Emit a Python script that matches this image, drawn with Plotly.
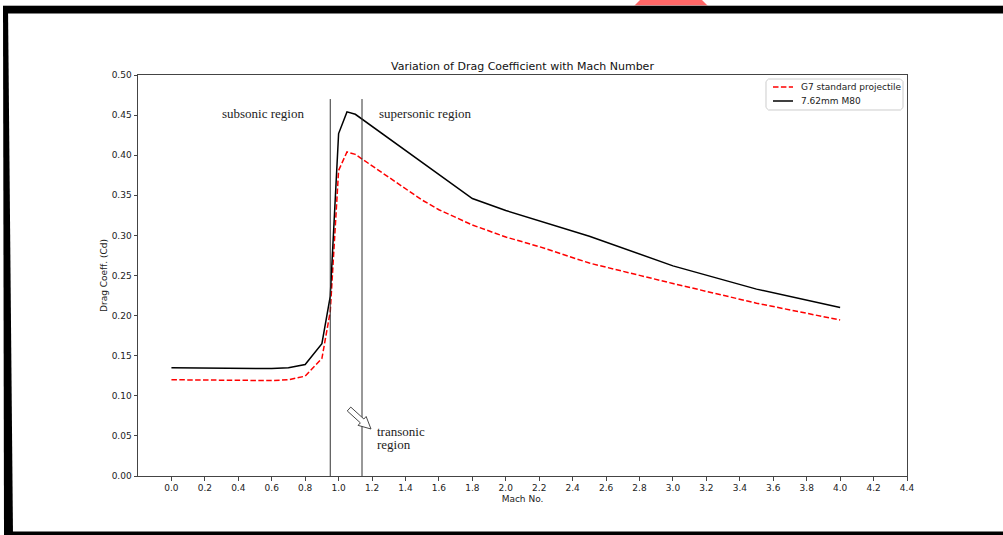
import plotly.graph_objects as go
import math

# ---------------- data ----------------
mach = [0.0, 0.6, 0.7, 0.8, 0.9, 0.95, 1.0, 1.05, 1.1, 1.2, 1.3, 1.4, 1.5, 1.6,
        1.7, 1.8, 2.0, 2.2, 2.5, 3.0, 3.5, 4.0]
cd_g7 = [0.120, 0.119, 0.120, 0.1245, 0.1465, 0.205, 0.381, 0.404, 0.401, 0.387,
         0.373, 0.358, 0.344, 0.332, 0.322, 0.313, 0.298, 0.286, 0.2655, 0.240, 0.2155, 0.1945]
cd_m80 = [0.135, 0.134, 0.135, 0.139, 0.165, 0.224, 0.427, 0.454, 0.451, 0.436,
          0.421, 0.405, 0.390, 0.376, 0.361, 0.346, 0.331, 0.318, 0.299, 0.262, 0.233, 0.210]
series_names = ["G7 standard projectile", "7.62mm M80"]
series_colors = ["#ff0000", "#000000"]
series_dash = ["5.5px,2.4px", "solid"]
region_lines = [0.95, 1.14]
region_line_top = 0.47
x_ticks = [round(0.2 * i, 1) for i in range(23)]
y_ticks = [round(0.05 * i, 2) for i in range(11)]

# ---------------- layout geometry (pixels) ----------------
W, H = 1003, 535
L, R, T, B = 138, 907, 75, 476
XMIN, XMAX = -0.2, 4.4
YMIN, YMAX = 0.0, 0.5


def px2paper(px, py):
    return (px - L) / (R - L), (B - py) / (B - T)


def poly(points, close=True):
    pts = [px2paper(x, y) for x, y in points]
    return "M " + " L ".join(f"{x:.5f},{y:.5f}" for x, y in pts) + (" Z" if close else "")


fig = go.Figure()
for ys, nm, col, dsh in zip([cd_g7, cd_m80], series_names, series_colors, series_dash):
    fig.add_trace(go.Scatter(x=mach, y=ys, mode="lines", name=nm, showlegend=False,
                             line=dict(color=col, width=1.5, dash=dsh)))

shapes = []
for xv in region_lines:
    shapes.append(dict(type="line", xref="x", yref="y", x0=xv, x1=xv, y0=0,
                       y1=region_line_top, line=dict(color="#333333", width=1)))

# hollow arrow pointing to transonic region (pixel geometry)
tx, ty = 349, 409
hx, hy = 371, 429
dx, dy = hx - tx, hy - ty
ln = math.hypot(dx, dy)
ux, uy = dx / ln, dy / ln
nx, ny = -uy, ux
sw, hw, hl = 2.6, 6.0, 12.0
bx, by = hx - ux * hl, hy - uy * hl
arrow = [
    (tx + nx * sw, ty + ny * sw),
    (bx + nx * sw, by + ny * sw),
    (bx + nx * hw, by + ny * hw),
    (hx, hy),
    (bx - nx * hw, by - ny * hw),
    (bx - nx * sw, by - ny * sw),
    (tx - nx * sw, ty - ny * sw),
]
shapes.append(dict(type="path", xref="paper", yref="paper", path=poly(arrow),
                   fillcolor="white", line=dict(color="#333333", width=0.9), layer="above"))

# manual legend (matplotlib style)
lg_l, lg_r, lg_t, lg_b, rad = 766, 903, 79, 110, 2.5
box = [(lg_l + rad, lg_t), (lg_r - rad, lg_t), (lg_r, lg_t + rad), (lg_r, lg_b - rad),
       (lg_r - rad, lg_b), (lg_l + rad, lg_b), (lg_l, lg_b - rad), (lg_l, lg_t + rad)]
shapes.append(dict(type="path", xref="paper", yref="paper", path=poly(box),
                   fillcolor="rgba(255,255,255,0.85)", line=dict(color="#cccccc", width=1),
                   layer="above"))
legend_rows = [87, 101]
annotations = []
for row_y, nm, col, dsh in zip(legend_rows, series_names, series_colors, series_dash):
    x0, y0 = px2paper(773, row_y)
    x1, _ = px2paper(793, row_y)
    shapes.append(dict(type="line", xref="paper", yref="paper", x0=x0, x1=x1, y0=y0, y1=y0,
                       line=dict(color=col, width=1.5, dash=dsh), layer="above"))
    tx0, ty0 = px2paper(799, row_y)
    annotations.append(dict(x=tx0, y=ty0, xref="paper", yref="paper", text=nm,
                            showarrow=False, xanchor="left", yanchor="middle",
                            font=dict(family="DejaVu Sans", size=9, color="#222222")))

# screenshot frame decorations
shapes.append(dict(type="path", xref="paper", yref="paper",
                   path=poly([(640, 0), (702, 0), (708, 6), (634, 6)]),
                   fillcolor="#ff6666", line=dict(width=0), layer="above"))
shapes.append(dict(type="path", xref="paper", yref="paper",
                   path=poly([(3, 5), (1003, 5), (1003, 5.8), (3, 5.8)]),
                   fillcolor="#9a9a9a", line=dict(width=0), layer="above"))
shapes.append(dict(type="path", xref="paper", yref="paper",
                   path=poly([(3, 6), (1003, 6), (1003, 13.5), (3, 13.5)]),
                   fillcolor="#000000", line=dict(width=0), layer="above"))
shapes.append(dict(type="path", xref="paper", yref="paper",
                   path=poly([(3, 6), (8, 6), (13, 535), (4, 535)]),
                   fillcolor="#000000", line=dict(width=0), layer="above"))
shapes.append(dict(type="path", xref="paper", yref="paper",
                   path=poly([(4, 531.5), (1003, 531.5), (1003, 535), (4, 535)]),
                   fillcolor="#000000", line=dict(width=0), layer="above"))

serif = dict(family="Liberation Serif, Times New Roman, serif", size=13, color="#222222")
annotations += [
    dict(x=0.545, y=0.4525, xref="x", yref="y", text="subsonic region", showarrow=False,
         font=serif, xanchor="center", yanchor="middle"),
    dict(x=1.52, y=0.4525, xref="x", yref="y", text="supersonic region", showarrow=False,
         font=serif, xanchor="center", yanchor="middle"),
    dict(x=1.22, y=0.0561, xref="x", yref="y", text="transonic", showarrow=False,
         font=serif, xanchor="left", yanchor="middle"),
    dict(x=1.22, y=0.0399, xref="x", yref="y", text="region", showarrow=False,
         font=serif, xanchor="left", yanchor="middle"),
]

fig.update_layout(
    width=W, height=H,
    margin=dict(l=L, r=W - R, t=T, b=H - B, pad=0),
    paper_bgcolor="white", plot_bgcolor="white",
    title=dict(text="Variation of Drag Coefficient with Mach Number",
               x=(L + R) / 2 / W, xanchor="center", y=1 - 66 / H, yanchor="middle",
               font=dict(family="DejaVu Sans", size=11, color="#111111")),
    font=dict(family="DejaVu Sans", size=9, color="#222222"),
    showlegend=False,
    shapes=shapes,
    annotations=annotations,
)
fig.update_xaxes(range=[XMIN, XMAX], tickvals=x_ticks,
                 ticktext=[f"{v:.1f}" for v in x_ticks],
                 showgrid=False, zeroline=False, showline=True, mirror=True,
                 linecolor="#444444", linewidth=1, ticks="outside", ticklen=3.5,
                 tickcolor="#444444", tickfont=dict(size=9),
                 title=dict(text="Mach No.", font=dict(size=9), standoff=3))
fig.update_yaxes(range=[YMIN, YMAX], tickvals=y_ticks,
                 ticktext=[f"{v:.2f}" for v in y_ticks],
                 showgrid=False, zeroline=False, showline=True, mirror=True,
                 linecolor="#444444", linewidth=1, ticks="outside", ticklen=3.5,
                 tickcolor="#444444", tickfont=dict(size=9),
                 title=dict(text="Drag Coeff. (Cd)", font=dict(size=9), standoff=2))

fig.write_html("out.html")
